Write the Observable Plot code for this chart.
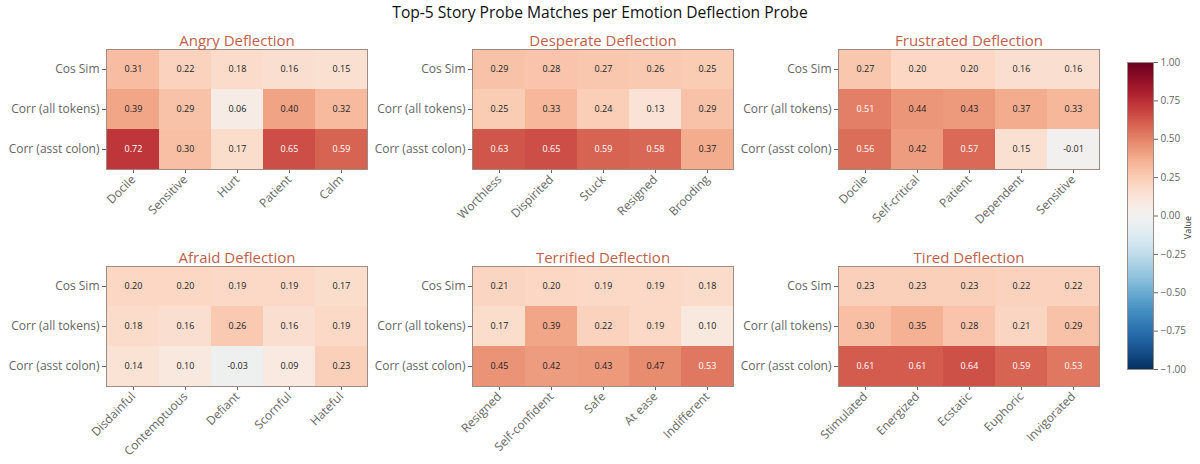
<!DOCTYPE html>
<html><head><meta charset="utf-8">
<script src="https://cdn.jsdelivr.net/npm/d3@7"></script>
<script src="https://cdn.jsdelivr.net/npm/@observablehq/plot@0.6"></script>
<style>
body{margin:0;background:#fff;}
#wrap{position:relative;width:1200px;height:464px;font-family:"Open Sans","Noto Sans",sans-serif;overflow:hidden;}
#title{position:absolute;top:1px;left:0;width:1200px;text-align:center;font-size:15.6px;font-weight:500;color:#111;}
.pn{position:absolute;}
.pn svg{max-width:none !important;}
</style></head>
<body><div id="wrap"><div id="title">Top-5 Story Probe Matches per Emotion Deflection Probe</div></div>
<script>
const metrics = ["Cos Sim", "Corr (all tokens)", "Corr (asst colon)"];
const titles = ["Angry Deflection","Desperate Deflection","Frustrated Deflection","Afraid Deflection","Terrified Deflection","Tired Deflection"];
const words = [
  ["Docile","Sensitive","Hurt","Patient","Calm"],
  ["Worthless","Dispirited","Stuck","Resigned","Brooding"],
  ["Docile","Self-critical","Patient","Dependent","Sensitive"],
  ["Disdainful","Contemptuous","Defiant","Scornful","Hateful"],
  ["Resigned","Self-confident","Safe","At ease","Indifferent"],
  ["Stimulated","Energized","Ecstatic","Euphoric","Invigorated"]
];
const cosSim = [
  [0.31,0.22,0.18,0.16,0.15],
  [0.29,0.28,0.27,0.26,0.25],
  [0.27,0.20,0.20,0.16,0.16],
  [0.20,0.20,0.19,0.19,0.17],
  [0.21,0.20,0.19,0.19,0.18],
  [0.23,0.23,0.23,0.22,0.22]
];
const corrAll = [
  [0.39,0.29,0.06,0.40,0.32],
  [0.25,0.33,0.24,0.13,0.29],
  [0.51,0.44,0.43,0.37,0.33],
  [0.18,0.16,0.26,0.16,0.19],
  [0.17,0.39,0.22,0.19,0.10],
  [0.30,0.35,0.28,0.21,0.29]
];
const corrAsst = [
  [0.72,0.30,0.17,0.65,0.59],
  [0.63,0.65,0.59,0.58,0.37],
  [0.56,0.42,0.57,0.15,-0.01],
  [0.14,0.10,-0.03,0.09,0.23],
  [0.45,0.42,0.43,0.47,0.53],
  [0.61,0.61,0.64,0.59,0.53]
];
const colorbarTicks = [-1,-0.75,-0.5,-0.25,0,0.25,0.5,0.75,1];

const FONT = "'Open Sans', 'Noto Sans', sans-serif";
const colorOpt = {type:"linear", scheme:"rdbu", reverse:true, domain:[-1,1]};
const wrap = document.getElementById("wrap");
const HX = [106, 472, 838], HY = [49, 266];
const HW = 261, HH = 120;
const ML = 110, MT = 30, MB = 80, MR = 20;

titles.forEach((t, i) => {
  const rows = [cosSim[i], corrAll[i], corrAsst[i]];
  const data = [];
  metrics.forEach((m, r) => words[i].forEach((w, c) => data.push({m, w, v: rows[r][c]})));
  const chart = Plot.plot({
    width: ML + HW + MR, height: MT + HH + MB,
    marginLeft: ML, marginTop: MT, marginBottom: MB, marginRight: MR,
    style: {fontFamily: FONT, fontSize: "12px", color: "#666", background: "transparent", overflow: "visible"},
    x: {domain: words[i], padding: 0, label: null, tickRotate: -45, tickSize: 4, tickPadding: 4},
    y: {domain: metrics, padding: 0, label: null, tickSize: 4, tickPadding: 3},
    color: colorOpt,
    marks: [
      Plot.cell(data, {x: "w", y: "m", fill: "v", inset: 0}),
      Plot.text(data, {x: "w", y: "m", text: d => d.v.toFixed(2), fontSize: 9, fontWeight: 500, fill: d => Math.abs(d.v) > 0.5 ? "#fff" : "#222"}),
      Plot.frame({stroke: "#9c8c84", strokeWidth: 1}),
      Plot.text([t], {frameAnchor: "top", dy: -4, fontSize: 15, fill: "#c1614b", lineAnchor: "bottom"})
    ]
  });
  const d = document.createElement("div");
  d.className = "pn";
  d.style.left = (HX[i % 3] - ML) + "px";
  d.style.top = (HY[Math.floor(i / 3)] - MT) + "px";
  d.appendChild(chart);
  wrap.appendChild(d);
});

// colorbar
const step = 0.005;
const grad = d3.range(-1, 1, step);
const CBT = 62, CBH = 307, CBW = 26;
const cb = Plot.plot({
  width: CBW + 70, height: CBH + 20,
  marginLeft: 0, marginRight: 70, marginTop: 10, marginBottom: 10,
  style: {fontFamily: FONT, fontSize: "10px", color: "#666", background: "transparent", overflow: "visible"},
  x: {domain: [0, 1], axis: null},
  y: {domain: [-1, 1], axis: "right", label: null, ticks: colorbarTicks, tickSize: 4, tickPadding: 3,
      tickFormat: d => d.toFixed(2).replace("-", "\u2212")},
  color: colorOpt,
  marks: [
    Plot.rect(grad, {x1: 0, x2: 1, y1: d => d, y2: d => Math.min(1, d + step * 2), fill: d => d + step / 2, shapeRendering: "crispEdges"}),
    Plot.frame({stroke: "#9c8c84"}),
    Plot.text(["Value"], {frameAnchor: "right", dx: 35, rotate: -90, fontSize: 9, fill: "#333"})
  ]
});
const cd = document.createElement("div");
cd.className = "pn";
cd.style.left = "1127px";
cd.style.top = (CBT - 10) + "px";
cd.style.width = (CBW + 70) + "px";
cd.appendChild(cb);
wrap.appendChild(cd);
</script></body></html>
